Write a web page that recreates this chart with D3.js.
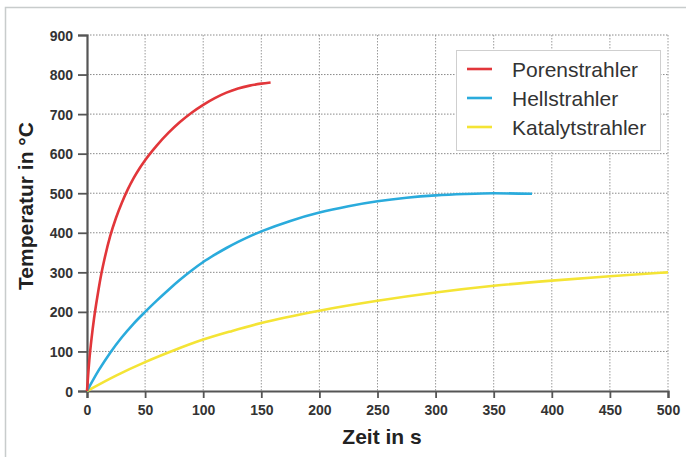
<!DOCTYPE html>
<html><head><meta charset="utf-8">
<script src="https://cdn.jsdelivr.net/npm/d3@7"></script>
<style>body{margin:0;background:#fff;}svg{display:block;}</style>
</head><body>
<svg id="c" width="686" height="457"></svg>
<script>
const seriesNames = ["Porenstrahler", "Hellstrahler", "Katalytstrahler"];
const seriesColors = ["#e2363a", "#2aabdc", "#f4e435"];
const poreT = [0, 2, 4, 6, 8, 10, 12.6, 15, 20, 25, 30, 35, 40, 45, 50, 60, 70, 80, 90, 100, 110, 120, 130, 140, 150, 158];
const poreV = [0, 78, 135, 182, 222, 258, 300, 333, 392, 438, 476, 509, 537.5, 562, 583.5, 620.5, 652.5, 680, 703.5, 723.5, 740.5, 754.3, 764.8, 772, 777, 780];
const hellT = [0, 10, 20, 30, 40, 50, 60, 70, 80, 90, 100, 110, 120, 130, 140, 150, 175, 200, 225, 250, 275, 300, 325, 350, 383];
const hellV = [0, 52, 97, 136, 170, 200, 228.5, 255.5, 281, 304.5, 326, 344.5, 361.5, 377, 391, 403.5, 430, 451, 467, 479.5, 488.5, 494.5, 498, 499.8, 498.5];
const katT = [0, 25, 50, 75, 100, 125, 150, 200, 250, 300, 350, 400, 450, 500];
const katV = [0, 39, 73, 103, 130, 152, 172, 203, 228, 249, 266, 279, 290, 300];
const xTicks = [0, 50, 100, 150, 200, 250, 300, 350, 400, 450, 500];
const yTicks = [0, 100, 200, 300, 400, 500, 600, 700, 800, 900];
const xTitle = "Zeit in s";
const yTitle = "Temperatur in °C";

const FONT = "Liberation Sans, Arial, sans-serif";
const svg = d3.select("#c");
// frame
svg.append("rect").attr("x", 5.5).attr("y", 7.5).attr("width", 700).attr("height", 470)
  .attr("fill", "none").attr("stroke", "#c8cccc").attr("stroke-width", 1.5);

const x = d3.scaleLinear().domain([0, 500]).range([87, 668]);
const y = d3.scaleLinear().domain([0, 900]).range([391, 35]);

// grid
const g = svg.append("g");
g.selectAll(".vg").data(xTicks.slice(1)).join("line")
  .attr("x1", d => x(d)).attr("x2", d => x(d)).attr("y1", y(900)).attr("y2", y(0))
  .attr("stroke", "#9a9a9a").attr("stroke-width", 1).attr("stroke-dasharray", "1.5,1.5");
g.selectAll(".hg").data(yTicks.slice(1)).join("line")
  .attr("y1", d => y(d)).attr("y2", d => y(d)).attr("x1", x(0)).attr("x2", x(500))
  .attr("stroke", "#8a8a8a").attr("stroke-width", 1).attr("stroke-dasharray", "1.5,1.5");

// axes
const xAxis = svg.append("g").attr("transform", `translate(0,${y(0)})`)
  .call(d3.axisBottom(x).tickValues(xTicks).tickSize(7).tickPadding(7).tickFormat(d3.format("d")));
const yAxis = svg.append("g").attr("transform", `translate(${x(0)},0)`)
  .call(d3.axisLeft(y).tickValues(yTicks).tickSize(9).tickPadding(5).tickFormat(d3.format("d")));
[xAxis, yAxis].forEach(a => {
  a.select(".domain").attr("stroke", "#555").attr("stroke-width", 2.2);
  a.selectAll(".tick line").attr("stroke", "#555").attr("stroke-width", 1.8);
  a.selectAll("text").attr("fill", "#333").attr("font-family", FONT)
    .attr("font-weight", "bold").attr("font-size", 14);
});
yAxis.selectAll("text").attr("dy", "0.36em");

// lines
const line = d3.line().x(d => x(d[0])).y(d => y(d[1])).curve(d3.curveMonotoneX);
const data = [d3.zip(poreT, poreV), d3.zip(hellT, hellV), d3.zip(katT, katV)];
[2, 1, 0].forEach(i => {
  svg.append("path").datum(data[i]).attr("d", line).attr("fill", "none")
    .attr("stroke", seriesColors[i]).attr("stroke-width", 2.6).attr("stroke-linejoin", "round");
});

// axis titles
svg.append("text").attr("x", 382).attr("y", 444).attr("text-anchor", "middle")
  .attr("font-family", FONT).attr("font-weight", "bold")
  .attr("font-size", 21).attr("fill", "#222").text(xTitle);
svg.append("text").attr("transform", "translate(33,206) rotate(-90)").attr("text-anchor", "middle")
  .attr("font-family", FONT).attr("font-weight", "bold")
  .attr("font-size", 21).attr("fill", "#222").text(yTitle);

// legend
const lg = svg.append("g");
lg.append("rect").attr("x", 456.5).attr("y", 50.5).attr("width", 204).attr("height", 100)
  .attr("fill", "#fff").attr("stroke", "#cfcfcf").attr("stroke-width", 1);
seriesNames.forEach((n, i) => {
  const yy = 69 + i * 29;
  lg.append("line").attr("x1", 467).attr("x2", 492).attr("y1", yy).attr("y2", yy)
    .attr("stroke", seriesColors[i]).attr("stroke-width", 2.6);
  lg.append("text").attr("x", 512).attr("y", yy).attr("dy", "0.36em")
    .attr("font-family", FONT).attr("font-size", 21)
    .attr("fill", "#333").text(n);
});
</script>
</body></html>
